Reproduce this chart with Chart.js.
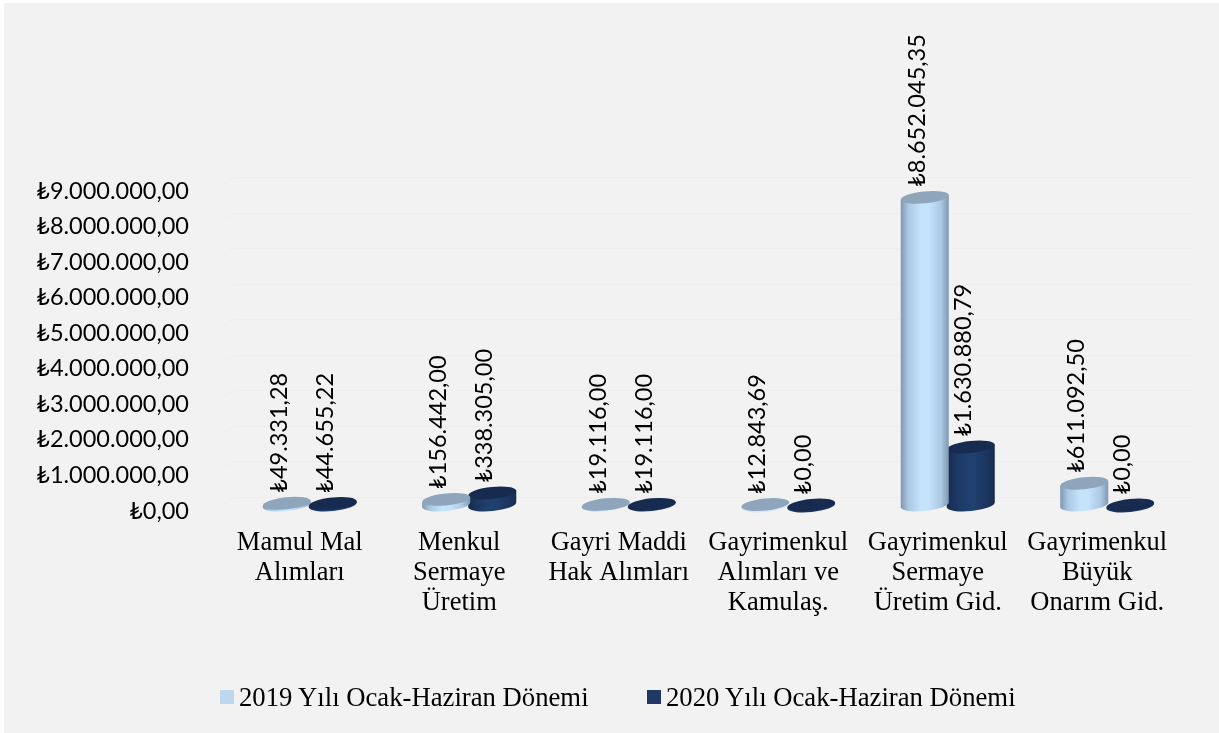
<!DOCTYPE html>
<html lang="tr">
<head>
<meta charset="utf-8">
<title>Harcamalar</title>
<script src="https://cdn.jsdelivr.net/npm/chart.js@4"></script>
<style>
    html, body { margin: 0; padding: 0; background: #fff; }
    #wrap { position: relative; width: 1219px; height: 733px; overflow: hidden; }
    #panel { position: absolute; left: 4px; top: 3px; width: 1215px; height: 730px; background: #f2f2f2; }
    canvas { position: absolute; left: 0; top: 0; }
    .lg { position: absolute; top: 680px; height: 34px; font: 26.7px/34px "Liberation Serif", serif; color: #000; white-space: nowrap; }
    .lg i { position: absolute; left: 0; top: 10px; width: 14px; height: 14px; }
    .lg span { position: absolute; left: 19px; top: 0; }
</style>
</head>
<body>
<div id="wrap">
    <div id="panel"></div>
    <canvas id="chart" width="1219" height="733"></canvas>
    <div id="legend"></div>
</div>
<script>
const categories = [
    ['Mamul Mal', 'Alımları'],
    ['Menkul', 'Sermaye', 'Üretim'],
    ['Gayri Maddi', 'Hak Alımları'],
    ['Gayrimenkul', 'Alımları ve', 'Kamulaş.'],
    ['Gayrimenkul', 'Sermaye', 'Üretim Gid.'],
    ['Gayrimenkul', 'Büyük', 'Onarım Gid.']
];
const values2019 = [49331.28, 156442.00, 19116.00, 12843.69, 8652045.35, 611092.50];
const values2020 = [44655.22, 338305.00, 19116.00, 0, 1630880.79, 0];
const seriesNames = ['2019 Yılı Ocak-Haziran Dönemi', '2020 Yılı Ocak-Haziran Dönemi'];

const TICK_FONT = 'Lato, "Noto Sans", sans-serif';
const SERIF_FONT = '"Liberation Serif", serif';

// 3D gorunum icin renkler
const shades = [
    { edge: '#7f98b0', near: '#aac8e4', mid: '#c6e3fc', cap: '#8ea5bb', rim: '#d5e8fa' },
    { edge: '#162b4e', near: '#1c3560', mid: '#20406f', cap: '#172b50', rim: '#1f3864' }
];
const TILT = -0.1;

function formatLira(v) {
    const parts = v.toFixed(2).split('.');
    return '₺' + parts[0].replace(/\B(?=(\d{3})+(?!\d))/g, '.') + ',' + parts[1];
}

function ellipse(ctx, x, y, rx, ry) {
    ctx.beginPath();
    ctx.ellipse(x, y, rx, ry, TILT, 0, Math.PI * 2);
}

function drawCylinder(ctx, bar, shade) {
    const rx = bar.width / 2 + 1;
    const ry = 6;
    const dy = rx * Math.sin(TILT);
    const top = bar.y;
    const base = bar.base;

    if (base - top > 0.5) {
        const grad = ctx.createLinearGradient(bar.x - rx, 0, bar.x + rx, 0);
        grad.addColorStop(0, shade.edge);
        grad.addColorStop(0.16, shade.near);
        grad.addColorStop(0.42, shade.mid);
        grad.addColorStop(0.58, shade.mid);
        grad.addColorStop(0.84, shade.near);
        grad.addColorStop(1, shade.edge);
        ctx.fillStyle = grad;
        ellipse(ctx, bar.x, base, rx, ry);
        ctx.fill();
        ctx.beginPath();
        ctx.moveTo(bar.x - rx, top - dy);
        ctx.lineTo(bar.x + rx, top + dy);
        ctx.lineTo(bar.x + rx, base + dy);
        ctx.lineTo(bar.x - rx, base - dy);
        ctx.closePath();
        ctx.fill();
    } else {
        ctx.fillStyle = shade.rim;
        ellipse(ctx, bar.x, base + 1, rx, ry);
        ctx.fill();
    }
    ctx.fillStyle = shade.cap;
    ellipse(ctx, bar.x, top, rx, ry);
    ctx.fill();
}

const cylinderPlugin = {
    id: 'cylinders',
    beforeDatasetDraw(chart, args) {
        const ctx = chart.ctx;
        ctx.save();
        args.meta.data.forEach(bar => drawCylinder(ctx, bar, shades[args.index]));
        ctx.restore();
        return false;
    },
    beforeDatasetsDraw(chart) {
        // arka duvar cizgileri
        const ctx = chart.ctx;
        const { left, right } = chart.chartArea;
        const y = chart.scales.y;
        ctx.save();
        ctx.strokeStyle = '#eeeeee';
        ctx.lineWidth = 1;
        y.ticks.forEach(t => {
            const py = Math.round(y.getPixelForValue(t.value)) + 0.5;
            ctx.beginPath();
            ctx.moveTo(left - 9, py);
            ctx.lineTo(left + 4, py - 8);
            ctx.lineTo(right + 5, py - 8);
            ctx.stroke();
        });
        ctx.restore();
    },
    afterDatasetsDraw(chart) {
        const ctx = chart.ctx;
        ctx.save();
        ctx.fillStyle = '#000';
        ctx.font = '23.5px ' + TICK_FONT;
        ctx.textAlign = 'left';
        ctx.textBaseline = 'alphabetic';
        chart.data.datasets.forEach((ds, i) => {
            chart.getDatasetMeta(i).data.forEach((bar, j) => {
                ctx.save();
                ctx.translate(bar.x, bar.y - 10.5);
                ctx.rotate(-Math.PI / 2);
                ctx.fillText(formatLira(ds.data[j]), 0, 0);
                ctx.restore();
            });
        });
        ctx.restore();
    }
};

const chart = new Chart(document.getElementById('chart').getContext('2d'), {
    type: 'bar',
    plugins: [cylinderPlugin],
    data: {
        labels: categories,
        datasets: [
            { label: seriesNames[0], data: values2019, backgroundColor: '#bdd7ee' },
            { label: seriesNames[1], data: values2020, backgroundColor: '#1f3864' }
        ]
    },
    options: {
        responsive: false,
        animation: false,
        layout: { padding: { top: 185, right: 32, left: 0, bottom: 0 } },
        plugins: { legend: { display: false }, tooltip: { enabled: false } },
        datasets: { bar: { categoryPercentage: 0.577, barPercentage: 1 } },
        scales: {
            x: {
                grid: { display: false },
                border: { display: false },
                afterFit(scale) { scale.height = 228; },
                ticks: {
                    autoSkip: false,
                    maxRotation: 0,
                    minRotation: 0,
                    padding: 15,
                    labelOffset: -10,
                    color: '#000',
                    font: { family: SERIF_FONT, size: 26.5, lineHeight: 1.13 }
                }
            },
            y: {
                min: 0,
                max: 9000000,
                grid: { display: false },
                border: { display: false },
                afterFit(scale) { scale.width = 230; },
                ticks: {
                    stepSize: 1000000,
                    padding: 33,
                    labelOffset: 6,
                    color: '#000',
                    font: { family: TICK_FONT, size: 23.5 },
                    callback: v => formatLira(v)
                }
            }
        }
    }
});

// lejant
const legendLeft = [220, 647];
document.getElementById('legend').innerHTML = chart.data.datasets.map((ds, i) =>
    `<div class="lg" style="left:${legendLeft[i]}px"><i style="background:${ds.backgroundColor}"></i><span>${ds.label}</span></div>`
).join('');
</script>
</body>
</html>
